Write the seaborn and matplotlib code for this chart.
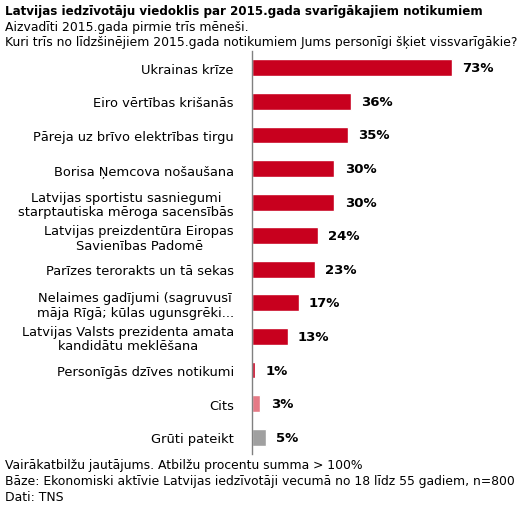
import matplotlib
matplotlib.use("Agg")
import matplotlib.pyplot as plt
import seaborn as sns
import pandas as pd
import numpy as np

categories = [
    "Ukrainas krīze",
    "Eiro vērtības krišanās",
    "Pāreja uz brīvo elektrības tirgu",
    "Borisa Ņemcova nošaušana",
    "Latvijas sportistu sasniegumi\nstarptautiska mēroga sacensībās",
    "Latvijas preizdentūra Eiropas\nSavienības Padomē",
    "Parīzes terorakts un tā sekas",
    "Nelaimes gadījumi (sagruvusī\nmāja Rīgā; kūlas ugunsgrēki...",
    "Latvijas Valsts prezidenta amata\nkandidātu meklēšana",
    "Personīgās dzīves notikumi",
    "Cits",
    "Grūti pateikt",
]
values = [73, 36, 35, 30, 30, 24, 23, 17, 13, 1, 3, 5]
colors = ["#C8001E"] * 10 + ["#E57A86", "#A0A0A0"]

df = pd.DataFrame({"cat": categories, "val": values})

sns.set_style("white")
plt.rcParams["font.family"] = ["DejaVu Sans"]
plt.rcParams["text.color"] = "black"

fig = plt.figure(figsize=(5.2, 5.06), dpi=100)
ax = fig.add_axes([0.4846, 0.1008, 0.51, 0.7964])

sns.barplot(data=df, x="val", y="cat", hue="cat", palette=colors, legend=False,
            width=0.5, ax=ax, saturation=1)

ax.set_xlim(0, 96.8)
ax.set_ylim(len(categories) - 0.5, -0.5)
ax.set_xlabel("")
ax.set_ylabel("")
ax.set_xticks([])
for s in ["top", "right", "bottom"]:
    ax.spines[s].set_visible(False)
ax.spines["left"].set_color("#808080")
ax.spines["left"].set_linewidth(1)

ax.set_yticks(range(len(categories)))
ax.set_yticklabels(categories, fontsize=9.4, multialignment="center", color="black",
                   linespacing=1.15)
ax.tick_params(axis="y", which="major", length=0, pad=13)
ax.set_yticks(np.arange(0.5, len(categories) - 1, 1), minor=True)
ax.tick_params(axis="y", which="minor", length=5, color="#808080", direction="out")

for i, v in enumerate(values):
    ax.annotate(f"{v}%", (v, i), xytext=(7.5, 0), textcoords="offset points",
                va="center", ha="left", fontsize=9.5, fontweight="bold", color="black")

fig.text(0.01, 0.99, "Latvijas iedzīvotāju viedoklis par 2015.gada svarīgākajiem notikumiem",
         fontsize=8.6, fontweight="bold", va="top")
fig.text(0.01, 0.958, "Aizvadīti 2015.gada pirmie trīs mēneši.", fontsize=8.9, va="top")
fig.text(0.01, 0.928, "Kuri trīs no līdzšinējiem 2015.gada notikumiem Jums personīgi šķiet vissvarīgākie?",
         fontsize=8.9, va="top")

fig.text(0.01, 0.092, "Vairākatbilžu jautājums. Atbilžu procentu summa > 100%", fontsize=8.9, va="top")
fig.text(0.01, 0.062, "Bāze: Ekonomiski aktīvie Latvijas iedzīvotāji vecumā no 18 līdz 55 gadiem, n=800",
         fontsize=8.9, va="top")
fig.text(0.01, 0.030, "Dati: TNS", fontsize=8.9, va="top")

fig.savefig("out.png", dpi=100)
